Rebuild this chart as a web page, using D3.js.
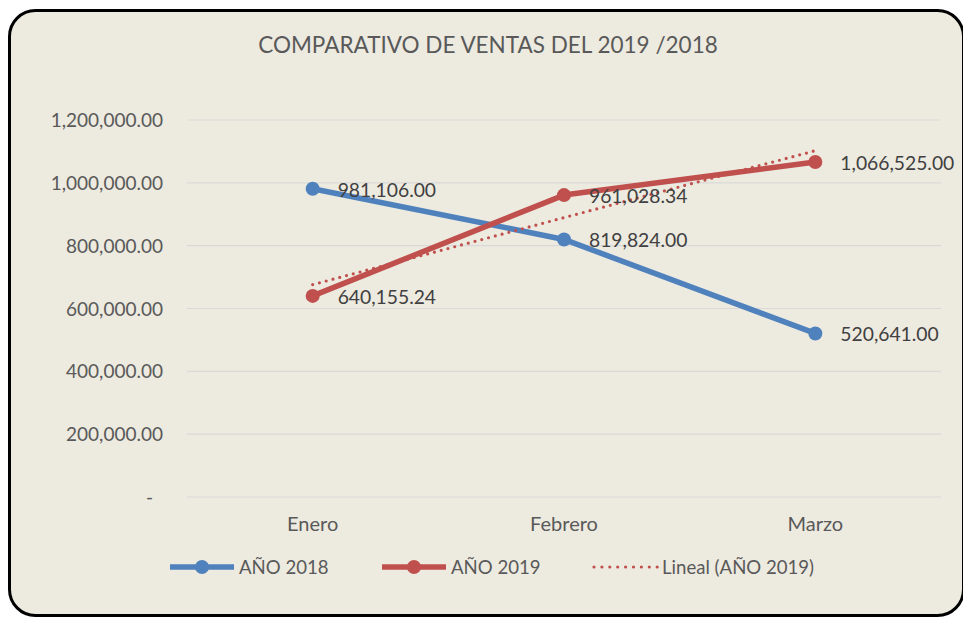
<!DOCTYPE html>
<html><head><meta charset="utf-8">
<script src="https://cdn.jsdelivr.net/npm/d3@7"></script>
<style>html,body{margin:0;padding:0;background:#fff;}svg{display:block;}</style>
</head><body>
<script>
const categories = ["Enero", "Febrero", "Marzo"];
const ventas2018 = [981106.00, 819824.00, 520641.00];
const ventas2019 = [640155.24, 961028.34, 1066525.00];
const yTicks = [0, 200000, 400000, 600000, 800000, 1000000, 1200000];
const seriesNames = ["AÑO 2018", "AÑO 2019", "Lineal (AÑO 2019)"];
const titleText = "COMPARATIVO DE VENTAS DEL 2019 /2018";

const W = 963, H = 618;
const FONT = "Lato, 'Open Sans', sans-serif";
const blue = "#4F81BD", red = "#C0504D", textCol = "#595959", labelCol = "#404040";

const svg = d3.select("body").append("svg").attr("width", W).attr("height", H);
svg.append("rect").attr("width", W).attr("height", H).attr("fill", "#fff");
svg.append("rect").attr("x", 9.5).attr("y", 10.5).attr("width", 954).attr("height", 605)
  .attr("rx", 26).attr("fill", "#EDEAE0").attr("stroke", "#000").attr("stroke-width", 3);

const x = d3.scalePoint().domain(categories).range([187, 941]).padding(0.5);
const y = d3.scaleLinear().domain([0, 1200000]).range([497, 120]);

svg.append("text").attr("x", 488).attr("y", 53).attr("text-anchor", "middle")
  .attr("font-family", FONT).attr("font-size", 22.5).attr("fill", textCol).text(titleText);

// gridlines
svg.append("g").selectAll("line").data(yTicks).join("line")
  .attr("x1", 187).attr("x2", 941).attr("y1", d => y(d)).attr("y2", d => y(d))
  .attr("stroke", "#D9D9D9").attr("stroke-width", 1.2);

// y axis labels
const fmt = d3.format(",.2f");
svg.append("g").selectAll("text").data(yTicks).join("text")
  .attr("x", d => d === 0 ? 153 : 163).attr("y", d => y(d) + 7)
  .attr("text-anchor", "end").attr("font-family", FONT).attr("font-size", 19)
  .attr("fill", textCol).text(d => d === 0 ? "-" : fmt(d));

// x axis labels
svg.append("g").selectAll("text").data(categories).join("text")
  .attr("x", d => x(d)).attr("y", 531).attr("text-anchor", "middle")
  .attr("font-family", FONT).attr("font-size", 20).attr("fill", textCol).text(d => d);

// trendline (least squares on 2019 series)
const n = ventas2019.length;
const xs = d3.range(1, n + 1);
const mx = d3.mean(xs), my = d3.mean(ventas2019);
const slope = d3.sum(xs.map((xi, i) => (xi - mx) * (ventas2019[i] - my))) / d3.sum(xs.map(xi => (xi - mx) ** 2));
const icpt = my - slope * mx;
const trend = categories.map((c, i) => icpt + slope * (i + 1));

const line = d3.line().x((d, i) => x(categories[i])).y(d => y(d));

function drawSeries(vals, col) {
  svg.append("path").datum(vals).attr("d", line).attr("fill", "none")
    .attr("stroke", col).attr("stroke-width", 5.5).attr("stroke-linejoin", "round").attr("stroke-linecap", "round");
  svg.append("g").selectAll("circle").data(vals).join("circle")
    .attr("cx", (d, i) => x(categories[i])).attr("cy", d => y(d)).attr("r", 7).attr("fill", col);
}
drawSeries(ventas2018, blue);
drawSeries(ventas2019, red);

svg.append("path").datum(trend).attr("d", line).attr("fill", "none")
  .attr("stroke", red).attr("stroke-width", 3.2).attr("stroke-dasharray", "0 7").attr("stroke-linecap", "round");

// data labels
function labels(vals) {
  svg.append("g").selectAll("text").data(vals).join("text")
    .attr("x", (d, i) => x(categories[i]) + 25).attr("y", d => y(d) + 8)
    .attr("font-family", FONT).attr("font-size", 19.3).attr("fill", labelCol).text(d => fmt(d));
}
labels(ventas2018);
labels(ventas2019);

// legend
const lg = svg.append("g");
const legendItems = [
  {name: seriesNames[0], col: blue, x0: 170, type: "line"},
  {name: seriesNames[1], col: red, x0: 382, type: "line"},
  {name: seriesNames[2], col: red, x0: 593, type: "trend"}
];
const ly = 567;
legendItems.forEach(it => {
  if (it.type === "line") {
    lg.append("line").attr("x1", it.x0).attr("x2", it.x0 + 64).attr("y1", ly).attr("y2", ly)
      .attr("stroke", it.col).attr("stroke-width", 5.5);
    lg.append("circle").attr("cx", it.x0 + 32).attr("cy", ly).attr("r", 7).attr("fill", it.col);
  } else {
    lg.append("line").attr("x1", it.x0 + 1).attr("x2", it.x0 + 65).attr("y1", ly).attr("y2", ly)
      .attr("stroke", it.col).attr("stroke-width", 3.2).attr("stroke-dasharray", "0 7.9").attr("stroke-linecap", "round");
  }
  lg.append("text").attr("x", it.x0 + 69).attr("y", ly + 6.5).attr("font-family", FONT)
    .attr("font-size", 18.6).attr("fill", textCol).text(it.name);
});
</script>
</body></html>
